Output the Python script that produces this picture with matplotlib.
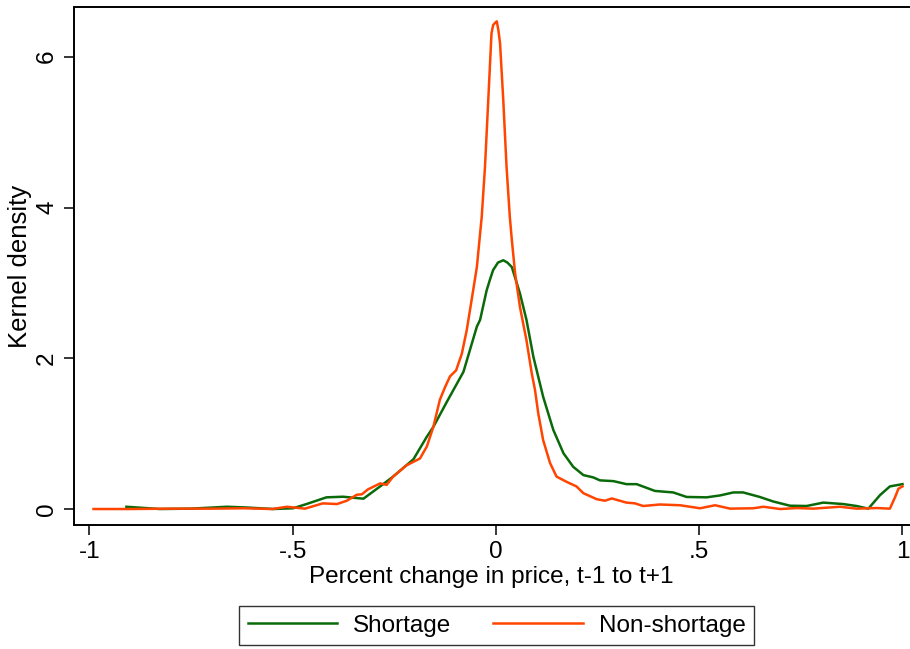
import matplotlib
matplotlib.use("Agg")
import matplotlib.pyplot as plt

plt.rcParams["font.family"] = ["Liberation Sans", "DejaVu Sans"]

# kernel density: shortage group
shortage_x = [-0.909, -0.827, -0.75, -0.662, -0.613, -0.548, -0.499, -0.466, -0.417, -0.376,
              -0.326, -0.285, -0.253, -0.203, -0.17, -0.154, -0.12, -0.08, -0.047, -0.039,
              -0.023, -0.015, -0.007, 0.005, 0.018, 0.028, 0.039, 0.059, 0.075, 0.092,
              0.116, 0.141, 0.166, 0.19, 0.215, 0.239, 0.256, 0.289, 0.321, 0.346,
              0.391, 0.436, 0.469, 0.518, 0.551, 0.584, 0.608, 0.649, 0.682, 0.723,
              0.764, 0.805, 0.854, 0.887, 0.916, 0.945, 0.969, 1.0]
shortage_y = [0.03, 0.0, 0.005, 0.03, 0.02, 0.0, 0.01, 0.066, 0.155, 0.163,
              0.137, 0.30, 0.43, 0.66, 0.96, 1.09, 1.43, 1.82, 2.42, 2.51,
              2.90, 3.04, 3.17, 3.27, 3.30, 3.27, 3.21, 2.86, 2.51, 2.02,
              1.49, 1.05, 0.74, 0.56, 0.45, 0.42, 0.38, 0.37, 0.33, 0.33,
              0.24, 0.22, 0.16, 0.155, 0.18, 0.22, 0.22, 0.16, 0.10, 0.044,
              0.04, 0.085, 0.066, 0.04, 0.005, 0.186, 0.30, 0.33]

# non-shortage group
nonshort_x = [-0.99, -0.90, -0.80, -0.70, -0.62, -0.55, -0.514, -0.47, -0.426, -0.391,
              -0.367, -0.342, -0.33, -0.315, -0.285, -0.269, -0.253, -0.22, -0.187, -0.17,
              -0.154, -0.138, -0.125, -0.113, -0.098, -0.084, -0.072, -0.06, -0.047, -0.035,
              -0.027, -0.019, -0.011, -0.007, -0.002, 0.002, 0.006, 0.010, 0.018, 0.026,
              0.034, 0.039, 0.047, 0.059, 0.075, 0.088, 0.096, 0.104, 0.116, 0.133,
              0.149, 0.174, 0.198, 0.215, 0.248, 0.268, 0.285, 0.321, 0.342, 0.362,
              0.403, 0.453, 0.502, 0.539, 0.576, 0.633, 0.658, 0.699, 0.74, 0.78,
              0.846, 0.887, 0.937, 0.969, 0.982, 0.99, 1.0]
nonshort_y = [0.0, 0.0, 0.005, 0.005, 0.01, 0.0, 0.03, 0.005, 0.075, 0.066,
              0.11, 0.19, 0.195, 0.26, 0.34, 0.32, 0.43, 0.58, 0.67, 0.83,
              1.09, 1.45, 1.62, 1.76, 1.84, 2.06, 2.37, 2.77, 3.21, 3.88,
              4.54, 5.42, 6.31, 6.42, 6.45, 6.47, 6.35, 6.18, 5.42, 4.54,
              3.88, 3.57, 3.13, 2.68, 2.24, 1.80, 1.58, 1.27, 0.915, 0.61,
              0.43, 0.36, 0.30, 0.21, 0.13, 0.11, 0.14, 0.085, 0.075, 0.04,
              0.06, 0.05, 0.01, 0.05, 0.005, 0.01, 0.03, 0.0, 0.013, 0.005,
              0.03, 0.005, 0.013, 0.005, 0.16, 0.27, 0.30]

x_ticks = [-1, -0.5, 0, 0.5, 1]
x_ticklabels = ["-1", "-.5", "0", ".5", "1"]
y_ticks = [0, 2, 4, 6]
y_ticklabels = ["0", "2", "4", "6"]

fig = plt.figure(figsize=(9.1, 6.49), dpi=100)
ax = fig.add_axes([74 / 910, 124 / 649, 835 / 910, 518 / 649])

ax.plot(shortage_x, shortage_y, color="#0a6a0a", lw=1.8, label="Shortage")
ax.plot(nonshort_x, nonshort_y, color="#ff4500", lw=1.8, label="Non-shortage")

ax.set_xlim(-1.038, 1.016)
ax.set_ylim(-0.212, 6.66)
ax.set_xticks(x_ticks)
ax.set_xticklabels(x_ticklabels)
ax.set_yticks(y_ticks)
ax.set_yticklabels(y_ticklabels, rotation=90, va="center")
ax.tick_params(axis="both", direction="out", length=7.5, width=1.1, labelsize=17.5, color="black")
ax.tick_params(axis="x", pad=4)
ax.tick_params(axis="y", pad=4)
for side in ("left", "bottom", "top"):
    ax.spines[side].set_linewidth(1.4)
    ax.spines[side].set_color("black")
ax.spines["right"].set_visible(False)

ax.set_xlabel("Percent change in price, t-1 to t+1", fontsize=17.5, labelpad=2)
ax.set_ylabel("Kernel density", fontsize=18.5, labelpad=3)

leg = fig.legend(loc="center", bbox_to_anchor=(496.5 / 910, 1 - 625.5 / 649), ncol=2,
                 fontsize=17.5, frameon=True, fancybox=False, edgecolor="black",
                 handlelength=3.7, columnspacing=1.7, borderpad=0.35, handletextpad=0.65)
leg.get_frame().set_linewidth(1.0)

fig.savefig("out.png", dpi=100)
